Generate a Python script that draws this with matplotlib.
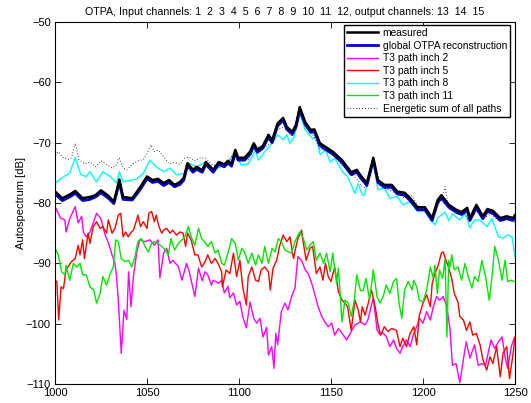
import matplotlib
matplotlib.use("Agg")
import matplotlib.pyplot as plt

# ---------------- data (frequency in Hz, level in dB) ----------------
meas_f = [1000, 1004, 1008, 1011, 1015, 1019, 1022, 1025, 1029, 1032,
          1035, 1037, 1042, 1046, 1050, 1053, 1056, 1059, 1062, 1065,
          1068, 1070, 1072, 1075, 1077, 1080, 1082, 1086, 1089, 1092,
          1094, 1096, 1098, 1099.5, 1103, 1106, 1108, 1110, 1113, 1116,
          1118, 1121, 1124, 1126, 1129, 1131, 1133, 1136, 1139, 1141,
          1144, 1148, 1151, 1156, 1161, 1164, 1166, 1169.5, 1173, 1175.5,
          1179, 1183, 1186, 1190, 1193, 1197, 1201, 1205, 1208, 1210,
          1214, 1218.5, 1221, 1224, 1225.5, 1229, 1232.5, 1235, 1238, 1242,
          1245.5, 1249, 1250]
meas_db = [-78.1, -79.2, -78.6, -78.0, -79.2, -79.0, -78.7, -77.9, -78.8, -79.8,
           -76.1, -79.0, -79.2, -77.5, -75.6, -76.2, -76.0, -76.7, -76.2, -77.0,
           -76.5, -75.8, -73.4, -74.5, -74.0, -74.6, -73.2, -74.5, -73.2, -73.6,
           -73.0, -73.5, -71.2, -72.5, -72.5, -71.5, -70.1, -71.2, -70.5, -68.7,
           -69.6, -66.8, -65.9, -67.4, -68.2, -67.0, -64.1, -66.6, -67.9, -67.8,
           -70.1, -70.9, -71.5, -72.9, -74.9, -74.5, -75.4, -76.7, -72.5, -76.2,
           -77.0, -77.0, -78.1, -78.3, -79.2, -80.7, -80.7, -82.5, -79.5, -78.7,
           -80.3, -81.2, -81.5, -80.8, -82.5, -80.3, -82.2, -81.0, -81.3, -82.5,
           -82.2, -82.5, -82.0]
recon_db = [-78.5, -79.6, -79.0, -78.4, -79.6, -79.4, -79.0, -78.3, -79.2, -80.1,
            -76.6, -79.4, -79.5, -77.9, -76.0, -76.6, -76.4, -77.1, -76.6, -77.3,
            -76.9, -76.2, -73.8, -74.9, -74.4, -74.9, -73.6, -74.9, -73.6, -74.0,
            -73.4, -73.9, -71.6, -72.9, -72.9, -71.9, -70.5, -71.6, -70.9, -69.1,
            -70.0, -67.2, -66.3, -67.8, -68.6, -67.4, -64.6, -67.0, -68.3, -68.2,
            -70.5, -71.3, -71.9, -73.3, -75.3, -74.9, -75.8, -77.1, -72.9, -76.6,
            -77.4, -77.4, -78.5, -78.7, -79.6, -81.1, -81.1, -82.9, -79.9, -79.2,
            -80.7, -81.6, -81.9, -81.2, -82.9, -80.8, -82.6, -81.4, -81.7, -82.9,
            -82.6, -82.9, -82.4]

p8_f = [1000, 1003, 1005, 1008, 1011, 1014, 1017, 1019, 1022.5, 1026,
        1030, 1033.5, 1035, 1037, 1041, 1044.5, 1048, 1051.5, 1055, 1059,
        1062.5, 1066, 1070, 1073, 1077, 1082, 1086, 1090, 1094, 1098,
        1101, 1105, 1109, 1110.5, 1114, 1118, 1121, 1124, 1126, 1127.7,
        1130, 1133, 1136, 1140, 1142, 1144, 1147, 1149.5, 1152, 1156.5,
        1159, 1163, 1164.7, 1167, 1168, 1173, 1175.5, 1179, 1182, 1186,
        1189, 1193, 1197, 1201, 1204, 1206.5, 1208, 1210, 1212, 1214,
        1216, 1220, 1223, 1225.5, 1228, 1231, 1234.8, 1237.5, 1241, 1243.5,
        1246, 1248.4, 1250]
p8_db = [-76.7, -76.0, -75.6, -75.0, -72.5, -75.3, -75.6, -74.8, -76.5, -74.8,
         -75.6, -76.7, -74.8, -76.5, -76.2, -76.0, -75.1, -72.9, -74.0, -74.8,
         -74.2, -75.3, -75.1, -73.4, -74.0, -73.2, -74.5, -74.0, -73.5, -71.4,
         -73.7, -73.5, -71.2, -72.9, -71.5, -70.1, -68.7, -69.5, -68.7, -70.1,
         -69.0, -65.1, -67.9, -69.3, -69.0, -72.0, -71.2, -73.2, -72.6, -74.9,
         -75.6, -78.4, -76.8, -78.6, -78.7, -73.2, -77.8, -77.5, -79.2, -78.9,
         -80.3, -79.8, -81.4, -81.4, -82.8, -83.6, -82.5, -82.0, -81.5, -82.9,
         -81.8, -82.8, -81.7, -84.1, -82.8, -82.8, -83.9, -82.6, -85.6, -85.8,
         -85.3, -85.6, -88.9]

esum_f = [1000, 1002, 1004, 1007, 1009, 1011, 1013, 1016, 1019, 1022,
          1025, 1028, 1031, 1033, 1035, 1037, 1039, 1042, 1045, 1048,
          1050, 1052, 1054, 1056, 1059, 1062, 1065, 1068, 1070, 1073,
          1076, 1079, 1082, 1086, 1090, 1094, 1098, 1101, 1105, 1109,
          1113, 1118, 1121, 1124, 1126, 1129, 1133, 1136, 1140, 1144,
          1148, 1152, 1156, 1161, 1164, 1167, 1169, 1173, 1176, 1180,
          1184, 1187, 1190, 1194, 1198, 1202, 1205, 1208, 1210, 1212,
          1214, 1218, 1222, 1225, 1229, 1233, 1237, 1241, 1245, 1250]
esum_db = [-72.0, -71.5, -72.4, -72.8, -72.5, -70.1, -72.8, -73.5, -73.2, -74.0,
           -73.0, -73.6, -74.2, -73.8, -72.5, -74.2, -74.5, -73.6, -73.0, -72.8,
           -71.8, -70.4, -71.5, -71.2, -72.3, -73.5, -73.3, -73.6, -72.6, -72.4,
           -73.0, -72.5, -72.6, -73.8, -73.5, -73.2, -71.3, -73.0, -72.8, -70.7,
           -71.0, -69.8, -67.8, -67.5, -67.9, -69.0, -64.6, -67.2, -68.6, -71.0,
           -71.5, -72.2, -73.8, -75.2, -76.0, -77.4, -77.5, -72.8, -77.0, -77.6,
           -78.2, -78.5, -79.2, -78.8, -80.9, -81.2, -82.6, -80.5, -79.2, -77.3,
           -80.9, -81.8, -81.5, -83.0, -81.3, -82.5, -81.8, -82.9, -82.6, -83.2]

p2_f = [1000, 1003, 1005.4, 1006, 1008, 1011, 1012.6, 1014.5, 1015.4, 1017,
        1019, 1020.8, 1022.6, 1025, 1027, 1029, 1031, 1032.6, 1033.5, 1034.4,
        1036, 1037.5, 1039, 1040, 1041.3, 1042.6, 1044.4, 1046, 1049, 1051.6,
        1054, 1056, 1057, 1059, 1060.7, 1062.5, 1064, 1067, 1069, 1071.5,
        1073, 1076, 1078, 1080, 1081.5, 1083, 1085, 1086, 1089, 1090.6,
        1092, 1094, 1095, 1097, 1098.7, 1100.5, 1102, 1104, 1106, 1108,
        1109.6, 1111.4, 1113, 1115, 1116, 1117.8, 1119, 1120, 1121, 1123,
        1125, 1126.6, 1128.6, 1130.4, 1132, 1134, 1136, 1137.7, 1139.5, 1141,
        1143, 1145, 1147, 1148.5, 1150.4, 1152, 1154, 1156, 1158.5, 1161,
        1163, 1166, 1168.5, 1170, 1173, 1175, 1176.6, 1178, 1180, 1182,
        1184, 1185.6, 1187.5, 1189, 1191, 1193, 1195, 1196.6, 1198, 1200,
        1202, 1204, 1205.6, 1207.4, 1209, 1211, 1213, 1214.7, 1216, 1218,
        1220, 1222, 1223.5, 1225.5, 1228, 1230, 1232, 1234, 1235.6, 1237,
        1239, 1241, 1243, 1244.6, 1246, 1248, 1249.5]
p2_db = [-80.6, -82.5, -82.8, -84.8, -82.6, -80.6, -83.3, -82.2, -84.8, -85.6,
         -84.8, -83.3, -81.7, -82.6, -85.1, -86.6, -88.6, -90.0, -92.4, -96.1,
         -104.9, -97.8, -99.3, -91.4, -97.2, -92.2, -88.3, -86.1, -86.4, -86.1,
         -87.0, -86.1, -92.4, -88.3, -87.5, -90.0, -89.5, -90.5, -92.8, -90.0,
         -91.4, -95.5, -90.8, -92.9, -91.4, -91.9, -93.6, -92.8, -93.3, -92.8,
         -94.9, -93.8, -95.7, -94.9, -96.9, -96.3, -98.8, -100.7, -96.4, -99.1,
         -99.9, -99.1, -102.2, -100.6, -105.2, -103.8, -107.4, -101.6, -103.5, -98.0,
         -96.6, -97.7, -95.5, -94.1, -88.9, -89.5, -91.1, -91.7, -93.3, -94.9,
         -97.2, -98.8, -99.9, -100.5, -99.9, -101.9, -100.8, -101.6, -102.7, -101.3,
         -100.2, -99.7, -100.2, -99.4, -95.7, -101.0, -101.8, -101.5, -102.1, -103.8,
         -102.7, -104.1, -104.9, -103.8, -102.7, -103.8, -101.6, -100.5, -99.1, -99.9,
         -98.0, -99.4, -97.2, -95.5, -96.1, -95.5, -97.2, -101.0, -106.9, -106.6,
         -109.8, -105.8, -103.0, -105.7, -103.5, -106.9, -106.6, -106.9, -104.6, -102.7,
         -104.1, -103.0, -102.2, -105.5, -107.4, -103.8, -102.4]

p5_f = [1000, 1001, 1002, 1003.3, 1004.6, 1006, 1007, 1009, 1011, 1012.6,
        1013.6, 1015, 1016, 1018, 1019, 1020.8, 1022.6, 1024.5, 1026, 1028,
        1029, 1031, 1032.6, 1034.4, 1035.7, 1037, 1038.4, 1039.8, 1041, 1042.6,
        1044.4, 1045, 1046.5, 1048, 1050, 1051, 1052.5, 1054, 1055, 1056.5,
        1058, 1059, 1060.7, 1062.5, 1064, 1066, 1068, 1069.6, 1071, 1072,
        1074, 1076, 1077.7, 1079.7, 1081.5, 1083, 1085, 1087, 1088.6, 1090.6,
        1091, 1093, 1095, 1097, 1098.7, 1100.5, 1102, 1104, 1105, 1107,
        1109, 1110.6, 1112, 1114, 1116, 1117, 1118.5, 1120.5, 1122, 1124,
        1126, 1127.7, 1129.6, 1131, 1132, 1134, 1135, 1136.5, 1138.6, 1140,
        1142, 1144, 1145.6, 1147, 1148.5, 1150, 1152, 1154, 1156, 1157.6,
        1159, 1161, 1163, 1164.8, 1166, 1167, 1168.5, 1170, 1172, 1174,
        1175.6, 1177, 1179, 1181, 1183, 1185.6, 1187.5, 1189, 1191, 1193,
        1195, 1196.6, 1198, 1200, 1202, 1204, 1205, 1206.5, 1208, 1210,
        1211, 1212.5, 1213.8, 1215.6, 1217, 1219, 1220, 1222, 1223.6, 1225.5,
        1227, 1229, 1231, 1232.6, 1234.6, 1236.4, 1238, 1240, 1242, 1243.5,
        1245.5, 1247, 1249, 1250]
p5_db = [-92.8, -93.0, -99.4, -93.9, -94.2, -91.1, -90.6, -89.7, -89.2, -87.0,
         -88.6, -86.1, -89.2, -85.0, -86.7, -83.9, -83.1, -84.2, -83.9, -85.0,
         -82.8, -85.0, -84.2, -82.0, -81.7, -85.6, -84.8, -85.6, -85.0, -84.5,
         -82.8, -82.0, -83.9, -83.1, -84.2, -81.7, -81.4, -83.1, -82.0, -83.9,
         -85.0, -84.5, -84.2, -85.0, -84.5, -85.3, -84.8, -85.0, -87.2, -85.0,
         -86.1, -88.6, -88.6, -90.6, -89.8, -88.6, -90.0, -89.2, -90.0, -91.4,
         -93.9, -91.1, -91.7, -88.3, -92.2, -89.5, -93.9, -96.9, -92.2, -90.6,
         -92.8, -93.0, -91.1, -90.6, -91.4, -94.4, -90.8, -89.5, -87.2, -85.3,
         -86.4, -85.6, -89.2, -87.2, -85.9, -84.5, -86.7, -89.5, -87.5, -87.2,
         -91.7, -90.6, -92.8, -90.0, -92.2, -93.0, -90.6, -94.7, -96.1, -96.6,
         -97.2, -101.1, -96.1, -97.7, -99.7, -97.2, -98.6, -96.9, -94.4, -97.2,
         -100.2, -101.9, -100.5, -101.3, -100.8, -101.1, -103.8, -102.4, -103.8, -101.6,
         -100.5, -103.5, -98.6, -96.6, -95.2, -97.2, -93.3, -91.7, -90.6, -88.3,
         -88.1, -89.5, -90.6, -92.5, -95.0, -96.4, -98.8, -99.4, -101.1, -99.7,
         -101.9, -101.6, -103.5, -106.0, -107.7, -105.5, -106.6, -103.8, -108.8, -104.9,
         -103.8, -109.1, -104.9, -102.2]

p11_f = [1000, 1001.8, 1003.6, 1005.4, 1006, 1008, 1010, 1011.8, 1013.6, 1015,
         1017, 1019, 1021, 1022.6, 1024.5, 1026, 1028, 1030, 1031.7, 1033,
         1034.4, 1036, 1038, 1040, 1041.7, 1043.5, 1045, 1047, 1049, 1050.7,
         1052.5, 1054, 1056, 1058, 1060, 1061.6, 1063, 1065, 1067, 1069,
         1070.6, 1072.5, 1074, 1076, 1078, 1079.7, 1081.5, 1083, 1085, 1087,
         1088.6, 1090.6, 1092, 1094, 1096, 1098, 1099.6, 1101.5, 1103, 1105,
         1107, 1109, 1110.5, 1112.5, 1114, 1116, 1118, 1119.6, 1121.4, 1123,
         1125, 1127, 1128.6, 1130.4, 1133, 1135, 1136.8, 1138.6, 1140.4, 1142,
         1144, 1146, 1147.6, 1149.5, 1151, 1153, 1154, 1156, 1157.6, 1159.4,
         1161, 1162.7, 1164, 1166, 1167.5, 1169, 1171, 1173, 1175, 1176.6,
         1178.4, 1180, 1182, 1184, 1185.6, 1187, 1188.5, 1190, 1192, 1194,
         1195, 1196.6, 1198, 1200, 1202, 1204, 1205.6, 1206.5, 1207.8, 1209,
         1210.7, 1212, 1213, 1214, 1214.7, 1215.6, 1217, 1219, 1221, 1222.8,
         1224.6, 1226.6, 1228, 1230, 1232, 1234, 1236, 1237.5, 1239, 1241,
         1243, 1244.6, 1246, 1248, 1249.5]
p11_db = [-87.5, -88.6, -91.4, -91.9, -90.3, -92.8, -90.0, -90.6, -90.0, -91.9,
          -91.9, -93.9, -94.4, -96.6, -95.0, -92.2, -93.6, -91.7, -90.6, -86.1,
          -86.4, -89.2, -89.7, -89.5, -90.6, -88.9, -86.4, -85.9, -87.2, -88.1,
          -86.7, -86.4, -86.7, -87.2, -87.8, -88.6, -85.9, -87.8, -86.7, -86.1,
          -85.6, -83.9, -85.6, -87.0, -84.2, -85.9, -86.5, -87.2, -86.4, -88.3,
          -87.8, -90.0, -90.3, -88.3, -85.9, -86.7, -89.5, -87.5, -88.1, -90.0,
          -88.3, -90.3, -88.6, -90.0, -87.2, -90.0, -87.5, -88.1, -85.9, -86.4,
          -87.8, -88.1, -88.3, -86.4, -84.8, -85.9, -87.8, -87.0, -86.4, -89.5,
          -88.3, -90.0, -88.3, -91.4, -88.3, -93.3, -90.8, -99.7, -96.1, -96.6,
          -98.8, -96.1, -91.9, -94.5, -94.5, -92.5, -96.1, -91.1, -95.5, -96.6,
          -95.5, -93.6, -95.0, -93.0, -92.5, -96.6, -99.1, -94.4, -93.0, -94.4,
          -92.8, -93.9, -96.1, -96.4, -94.4, -90.6, -92.5, -90.3, -95.0, -91.1,
          -92.5, -89.2, -102.2, -89.5, -90.6, -88.6, -91.1, -90.6, -92.8, -90.0,
          -92.2, -94.1, -92.2, -93.0, -89.5, -92.2, -96.1, -92.2, -87.2, -89.5,
          -92.8, -89.5, -93.0, -92.8, -93.0]

x_ticks = [1000, 1050, 1100, 1150, 1200, 1250]
y_ticks = [-110, -100, -90, -80, -70, -60, -50]
title = "OTPA, Input channels: 1  2  3  4  5  6  7  8  9  10  11  12, output channels: 13  14  15"

# ---------------- figure ----------------
plt.rcParams["font.family"] = "Liberation Sans"
plt.rcParams["font.size"] = 8

fig = plt.figure(figsize=(5.31, 4.03), dpi=100)
ax = fig.add_axes([55 / 531, 19 / 403, 460 / 531, 362 / 403])

l2, = ax.plot(p2_f, p2_db, color=(1, 0, 1), lw=1.0, label="T3 path inch 2")
l5, = ax.plot(p5_f, p5_db, color=(1, 0, 0), lw=1.0, label="T3 path inch 5")
l8, = ax.plot(p8_f, p8_db, color=(0, 1, 1), lw=1.0, label="T3 path inch 8")
l11, = ax.plot(p11_f, p11_db, color=(0, 0.9, 0), lw=1.0, label="T3 path inch 11")
lrec, = ax.plot(meas_f, recon_db, color=(0, 0, 0.85), lw=2.0, label="global OTPA reconstruction")
lmeas, = ax.plot(meas_f, meas_db, color="black", lw=1.8, label="measured")
lsum, = ax.plot(esum_f, esum_db, color="black", lw=0.6, ls=(0, (1, 2.5)), label="Energetic sum of all paths")

ax.set_xlim(1000, 1250)
ax.set_ylim(-110, -50)
ax.set_xticks(x_ticks)
ax.set_yticks(y_ticks)
ax.tick_params(direction="in", top=True, right=True, length=4, width=0.6, pad=3)
for s in ax.spines.values():
    s.set_linewidth(0.8)

ax.set_title(title, fontsize=7.7, pad=5)
ax.set_ylabel("Autospectrum [dB]", fontsize=8, labelpad=0)

leg = ax.legend(handles=[lmeas, lrec, l2, l5, l8, l11, lsum],
                loc="upper right", bbox_to_anchor=((510 - 55) / 460, (384 - 25) / 362),
                borderaxespad=0, frameon=True, fancybox=False, framealpha=1,
                edgecolor="black", fontsize=7.4, labelspacing=0.25,
                handlelength=3.0, handletextpad=0.45, borderpad=0.3)
leg.get_frame().set_linewidth(1.0)

fig.savefig("out.png", dpi=100)
